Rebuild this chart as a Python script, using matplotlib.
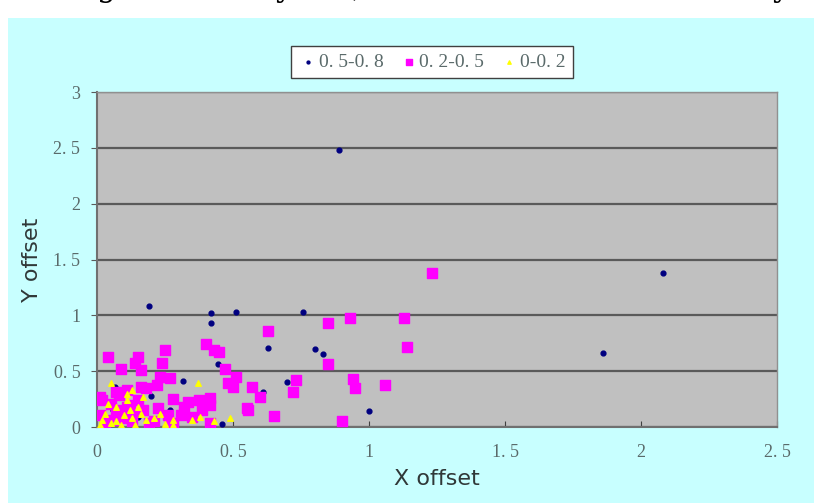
import matplotlib.pyplot as plt
from matplotlib.patches import Rectangle

# series 0.5-0.8 (navy dots)
hi_x = [0.89, 2.08, 1.86, 0.757, 0.80, 0.83, 1.00, 0.63, 0.70, 0.61, 0.19,
        0.42, 0.42, 0.51, 0.445, 0.315, 0.066, 0.20, 0.27, 0.46, 0.06, 0.15]
hi_y = [2.48, 1.375, 0.66, 1.03, 0.70, 0.65, 0.14, 0.71, 0.40, 0.31, 1.08,
        1.02, 0.93, 1.03, 0.56, 0.41, 0.36, 0.28, 0.15, 0.03, 0.15, 0.09]

# series 0.2-0.5 (magenta squares)
mid_x = [1.23, 0.85, 0.93, 1.13, 1.14, 0.85, 0.94, 0.95, 1.06, 0.90, 0.63,
         0.73, 0.72, 0.57, 0.60, 0.55, 0.65, 0.40, 0.43, 0.45, 0.47, 0.51,
         0.48, 0.50, 0.555, 0.25, 0.24, 0.04, 0.09, 0.15, 0.14, 0.16, 0.23,
         0.27, 0.22, 0.16, 0.18, 0.11, 0.07, 0.01, 0.28, 0.335, 0.375, 0.415,
         0.415, 0.385, 0.32, 0.225, 0.26, 0.31, 0.35, 0.415, 0.27, 0.21, 0.19,
         0.13, 0.10, 0.06, 0.01, 0.02, 0.05, 0.08, 0.12, 0.15, 0.17, 0.13,
         0.11, 0.07, 0.28, 0.03]
mid_y = [1.38, 0.93, 0.98, 0.98, 0.72, 0.56, 0.43, 0.35, 0.38, 0.05, 0.86,
         0.42, 0.31, 0.36, 0.27, 0.17, 0.10, 0.74, 0.69, 0.67, 0.52, 0.45,
         0.39, 0.36, 0.15, 0.69, 0.57, 0.63, 0.52, 0.63, 0.57, 0.51, 0.45,
         0.44, 0.38, 0.36, 0.35, 0.33, 0.31, 0.27, 0.25, 0.22, 0.24, 0.26,
         0.20, 0.15, 0.18, 0.17, 0.11, 0.11, 0.09, 0.04, 0.04, 0.05, 0.04,
         0.05, 0.08, 0.06, 0.11, 0.24, 0.21, 0.29, 0.20, 0.24, 0.15, 0.12,
         0.18, 0.15, 0.02, 0.04]

# series 0-0.2 (yellow triangles)
lo_x = [0.37, 0.49, 0.17, 0.04, 0.07, 0.11, 0.12, 0.15, 0.02, 0.05, 0.07,
        0.10, 0.13, 0.16, 0.18, 0.23, 0.28, 0.28, 0.35, 0.38, 0.43, 0.01,
        0.11, 0.05, 0.13, 0.21, 0.09, 0.14, 0.03, 0.25]
lo_y = [0.39, 0.08, 0.27, 0.21, 0.18, 0.24, 0.15, 0.18, 0.06, 0.04, 0.05,
        0.11, 0.08, 0.12, 0.06, 0.12, 0.06, 0.02, 0.06, 0.09, 0.05, 0.02,
        0.30, 0.39, 0.33, 0.08, 0.02, 0.02, 0.12, 0.03]

labels = ['0. 5-0. 8', '0. 2-0. 5', '0-0. 2']
x_ticks = [0, 0.5, 1, 1.5, 2, 2.5]
x_ticklabels = ['0', '0. 5', '1', '1. 5', '2', '2. 5']
y_ticks = [0, 0.5, 1, 1.5, 2, 2.5, 3]
y_ticklabels = ['0', '0. 5', '1', '1. 5', '2', '2. 5', '3']

W, H = 814, 503
fig = plt.figure(figsize=(W / 100, H / 100), dpi=100, facecolor='white')

# cyan chart area below the cut-off line of page text
fig.patches.append(Rectangle((8 / W, 0), 1 - 8 / W, 1 - 18 / H,
                             transform=fig.transFigure, facecolor='#C8FFFF',
                             edgecolor='none', zorder=-10))
# descenders of the page text above the chart
for ch, px in [('g', 97), ('y', 275), (',', 352), ('y', 772)]:
    fig.text(px / W, 1 + 4 / H, ch, fontsize=22, family='DejaVu Serif',
             va='baseline', color='black')

ax = fig.add_axes([97 / W, 76 / H, 680 / W, 335 / H])
ax.set_facecolor('#C0C0C0')

ax.scatter(hi_x, hi_y, s=12, marker='o', color='#000080', zorder=3, label=labels[0])
ax.scatter(mid_x, mid_y, s=46, marker='s', color='#FF00FF', zorder=4, label=labels[1])
ax.scatter(lo_x, lo_y, s=16, marker='^', color='#FFFF00', zorder=5, label=labels[2])

ax.set_xlim(0, 2.5)
ax.set_ylim(0, 3)
ax.set_xticks(x_ticks)
ax.set_xticklabels(x_ticklabels)
ax.set_yticks(y_ticks)
ax.set_yticklabels(y_ticklabels)
ax.yaxis.grid(True, color='#5a5a5a', linewidth=1.6)
ax.set_axisbelow(True)

for side in ['left', 'bottom']:
    ax.spines[side].set_color('#707070')
    ax.spines[side].set_linewidth(1.5)
for side in ['right', 'top']:
    ax.spines[side].set_color('#909090')
    ax.spines[side].set_linewidth(1.0)

ax.tick_params(axis='x', direction='in', length=4, color='#404040', pad=12,
               labelsize=13, labelcolor='#5a6a6a')
ax.tick_params(axis='y', direction='out', length=4, color='#5a5a5a', pad=8,
               labelsize=13, labelcolor='#5a6a6a')
for t in ax.get_xticklabels() + ax.get_yticklabels():
    t.set_family('Liberation Serif')

ax.set_xlabel('X offset', fontsize=16, color='#303838', labelpad=6)
ax.set_ylabel('Y offset', fontsize=16, color='#303838', labelpad=8)

leg = fig.legend(loc='center', bbox_to_anchor=(432 / W, 1 - 62 / H), ncol=3,
                 frameon=True, fancybox=False, edgecolor='#404040',
                 facecolor='white', framealpha=1, handletextpad=0.05,
                 columnspacing=0.8, borderpad=0.35, handlelength=1.0,
                 markerscale=0.6,
                 prop={'family': 'Liberation Serif', 'size': 14})
for t in leg.get_texts():
    t.set_color('#5a6a6a')

fig.savefig('out.png', dpi=100, facecolor=fig.get_facecolor())
